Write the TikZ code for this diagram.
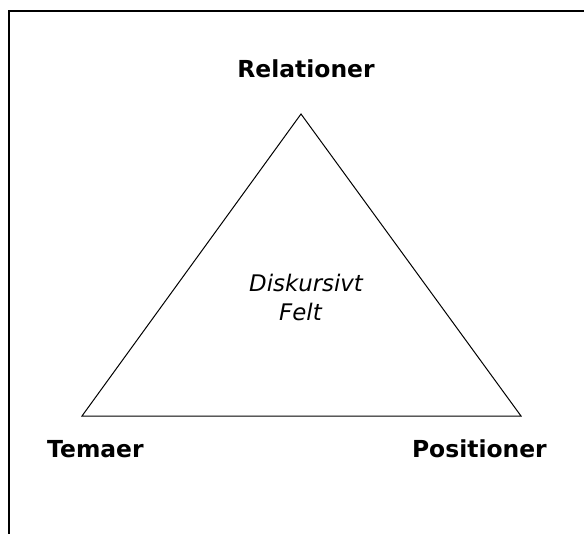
\documentclass[tikz,border=0pt]{standalone}
\usepackage{fontspec}
\setmainfont{DejaVu Sans}
\usetikzlibrary{positioning}
\tikzset{
  % --- frame and triangle ---------------------------------------------------
  frame/.style    = {draw=black, line width=1.7pt, line cap=rect},
  field/.style    = {draw=black, line width=0.85pt, line join=miter},
  % --- labels ---------------------------------------------------------------
  cornerlbl/.style = {font=\fontsize{20}{24}\selectfont\bfseries, inner sep=0pt},
  fieldlbl/.style  = {font=\fontsize{19.5}{24}\selectfont\itshape, inner sep=0pt},
}

\begin{document}
\begin{tikzpicture}[x=0.03cm, y=-0.03cm]
\useasboundingbox (0,0) rectangle (584,534);

% ============================ open frame ===================================
\draw[frame] (584,11) -- (9,11) -- (9,534);

% ============================ the triangle =================================
\coordinate (top)   at (301,114);
\coordinate (left)  at (82,416);
\coordinate (right) at (521,416);
\draw[field] (top) -- (right) -- (left) -- cycle;

% ============================ corner labels ================================
\node[cornerlbl, anchor=base]      (rel) at (306,78)  {Relationer};
\node[cornerlbl, anchor=base west] (tem) at (47,457)  {Temaer};
\node[cornerlbl, anchor=base east] (pos) at (547,457) {Positioner};

% ============================ inside the field =============================
\node[fieldlbl, anchor=base west] (disk) at (249,291) {Diskursivt};
\node[fieldlbl, anchor=base west] (felt) at (279,320) {Felt};

\end{tikzpicture}
\end{document}
